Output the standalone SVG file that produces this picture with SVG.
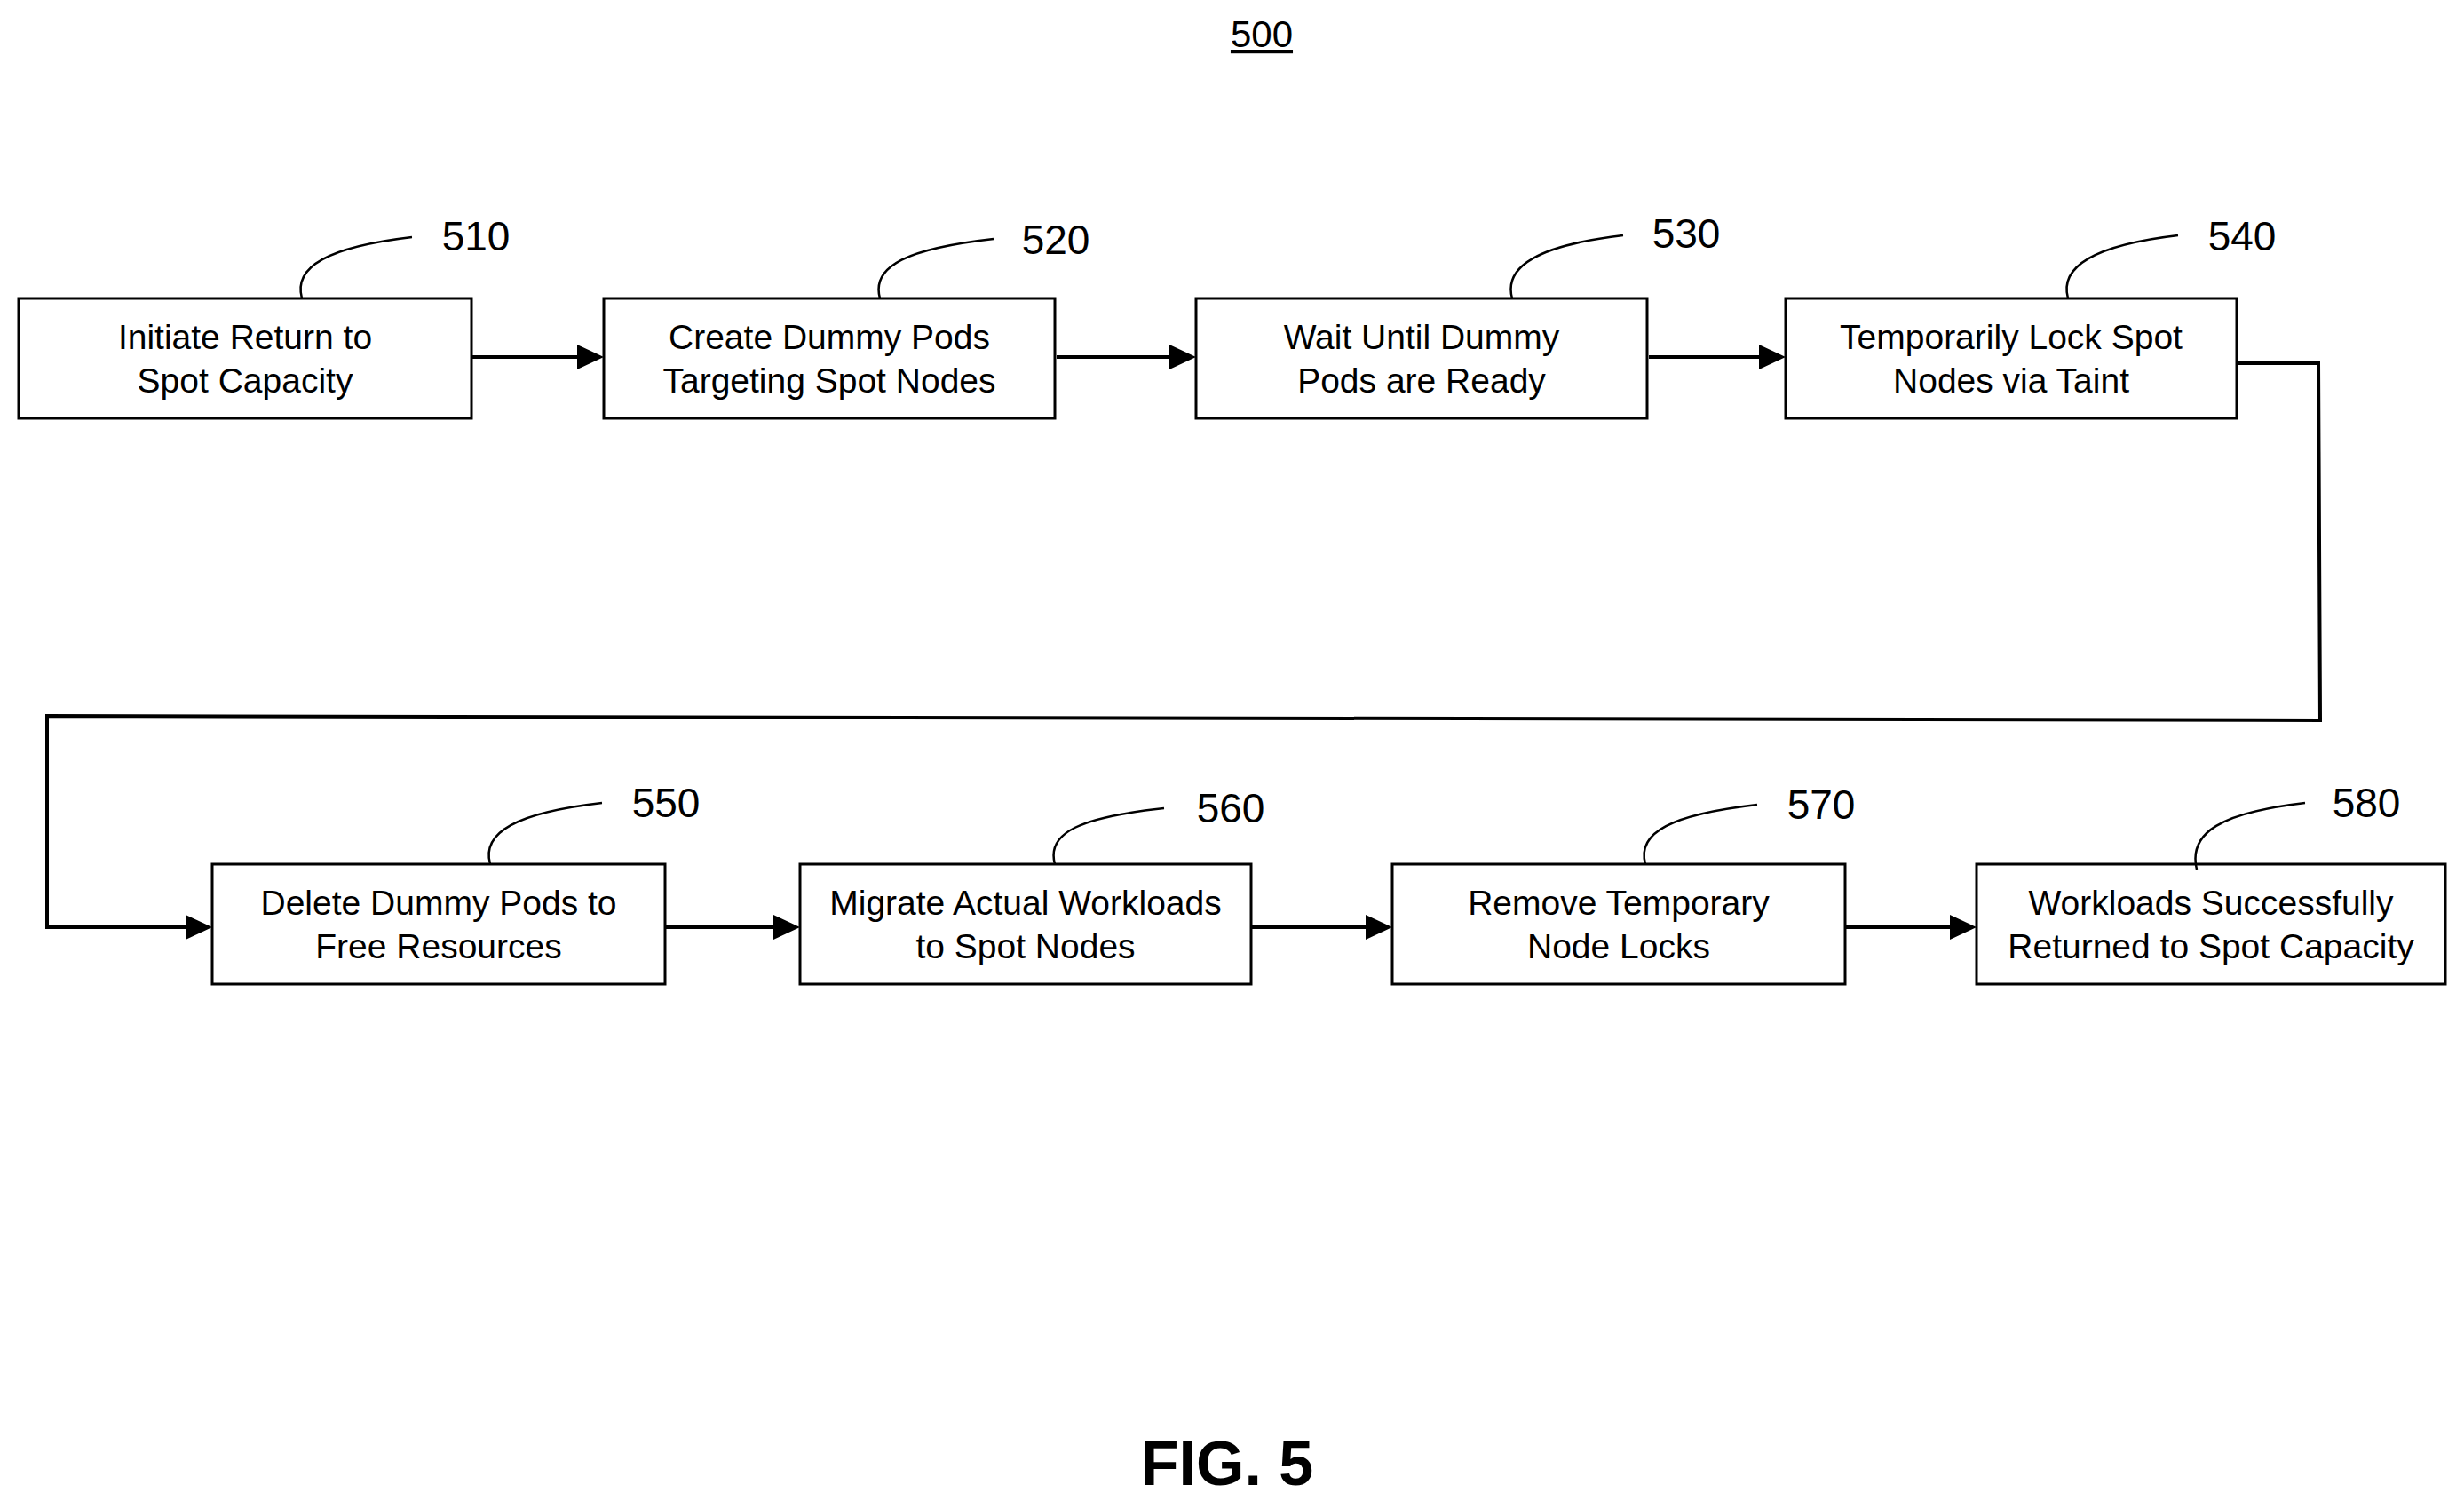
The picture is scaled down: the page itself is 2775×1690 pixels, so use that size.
<svg xmlns="http://www.w3.org/2000/svg" width="2775" height="1690" viewBox="0 0 2775 1690">
<defs>
<marker id="ah" markerWidth="10" markerHeight="10" refX="9" refY="5" orient="auto" markerUnits="userSpaceOnUse" viewBox="0 0 10 10"><path d="M0,0 L10,5 L0,10 z" fill="#000"/></marker>
<style>
.box{fill:#fff;stroke:#000;stroke-width:3}
.t{font-family:"Liberation Sans",Arial,sans-serif;font-size:39px;text-anchor:middle;fill:#000}
.n{font-family:"Liberation Sans",Arial,sans-serif;font-size:46px;text-anchor:middle;fill:#000}
.lead{fill:none;stroke:#000;stroke-width:2.5}
.c{fill:none;stroke:#000;stroke-width:4}
</style>
</defs>
<rect width="2775" height="1690" fill="#fff"/>
<text x="1421" y="53" class="n" style="font-size:42px" text-decoration="underline">500</text>
<g id="connectors">
<path class="c" d="M531,402 H670" marker-end="url(#ah)" style="stroke-width:4"/>
<path class="c" d="M1190,402 H1337"/>
<path class="c" d="M1857,402 H2001"/>
<path class="c" d="M2519,409 H2611 L2613,811 L53,806 V1044 H229"/>
<path class="c" d="M749,1044 H891"/>
<path class="c" d="M1409,1044 H1558"/>
<path class="c" d="M2078,1044 H2216"/>
<g fill="#000">
<path d="M680,402 l-30,-14 v28z"/>
<path d="M1347,402 l-30,-14 v28z"/>
<path d="M2011,402 l-30,-14 v28z"/>
<path d="M239,1044 l-30,-14 v28z"/>
<path d="M901,1044 l-30,-14 v28z"/>
<path d="M1568,1044 l-30,-14 v28z"/>
<path d="M2226,1044 l-30,-14 v28z"/>
</g>
</g>
<g id="n510"><rect class="box" x="21" y="336" width="510" height="135"/><text class="t" x="276" y="393">Initiate Return to</text><text class="t" x="276" y="442">Spot Capacity</text><path class="lead" d="M340,336 C330,300 370,278 464,267"/><text class="n" x="536" y="282">510</text></g>
<g id="n520"><rect class="box" x="680" y="336" width="508" height="135"/><text class="t" x="934" y="393">Create Dummy Pods</text><text class="t" x="934" y="442">Targeting Spot Nodes</text><path class="lead" d="M991,336 C981,300 1021,280 1119,269"/><text class="n" x="1189" y="286">520</text></g>
<g id="n530"><rect class="box" x="1347" y="336" width="508" height="135"/><text class="t" x="1601" y="393">Wait Until Dummy</text><text class="t" x="1601" y="442">Pods are Ready</text><path class="lead" d="M1703,336 C1693,300 1733,276 1828,265"/><text class="n" x="1899" y="279">530</text></g>
<g id="n540"><rect class="box" x="2011" y="336" width="508" height="135"/><text class="t" x="2265" y="393">Temporarily Lock Spot</text><text class="t" x="2265" y="442">Nodes via Taint</text><path class="lead" d="M2329,336 C2319,300 2359,276 2453,265"/><text class="n" x="2525" y="282">540</text></g>
<g id="n550"><rect class="box" x="239" y="973" width="510" height="135"/><text class="t" x="494" y="1030">Delete Dummy Pods to</text><text class="t" x="494" y="1079">Free Resources</text><path class="lead" d="M552,973 C542,937 582,915 678,904"/><text class="n" x="750" y="920">550</text></g>
<g id="n560"><rect class="box" x="901" y="973" width="508" height="135"/><text class="t" x="1155" y="1030">Migrate Actual Workloads</text><text class="t" x="1155" y="1079">to Spot Nodes</text><path class="lead" d="M1188,973 C1178,937 1218,920 1311,910"/><text class="n" x="1386" y="926">560</text></g>
<g id="n570"><rect class="box" x="1568" y="973" width="510" height="135"/><text class="t" x="1823" y="1030">Remove Temporary</text><text class="t" x="1823" y="1079">Node Locks</text><path class="lead" d="M1853,973 C1843,937 1883,917 1979,906"/><text class="n" x="2051" y="922">570</text></g>
<g id="n580"><rect class="box" x="2226" y="973" width="528" height="135"/><text class="t" x="2490" y="1030">Workloads Successfully</text><text class="t" x="2490" y="1079">Returned to Spot Capacity</text><path class="lead" d="M2474,979 C2464,937 2502,915 2596,904"/><text class="n" x="2665" y="920">580</text></g>
<text x="1382" y="1672" class="n" style="font-size:70px;font-weight:bold">FIG. 5</text>
</svg>
